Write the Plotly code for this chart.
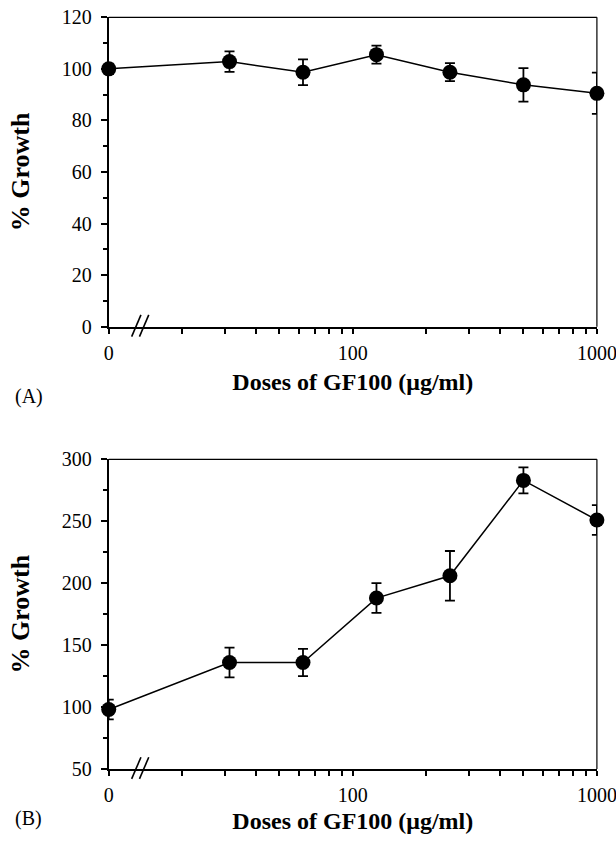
import plotly.graph_objects as go

# ---- data ----
doses = [0, 31.25, 62.5, 125, 250, 500, 1000]
growth_a = [100, 102.8, 98.7, 105.5, 98.7, 93.8, 90.5]
err_a = [2, 4, 5, 3.5, 3.5, 6.5, 8]
growth_b = [98, 136, 136, 188, 206, 283, 251]
err_b = [8, 12, 11, 12, 20, 10.5, 12]

x_tick_vals = [10, 20, 30, 40, 50, 60, 70, 80, 90, 100,
               200, 300, 400, 500, 600, 700, 800, 900, 1000]
x_tick_text = ["0", "", "", "", "", "", "", "", "", "100",
               "", "", "", "", "", "", "", "", "1000"]
zero_pos = 10  # where dose 0 is drawn on the log axis

x_plot = [zero_pos if d == 0 else d for d in doses]

FONT = "Liberation Serif"

fig = go.Figure()

for i, (g, e) in enumerate([(growth_a, err_a), (growth_b, err_b)]):
    xa = "x" if i == 0 else "x2"
    ya = "y" if i == 0 else "y2"
    fig.add_trace(go.Scatter(
        x=x_plot, y=g, xaxis=xa, yaxis=ya,
        mode="lines+markers",
        line=dict(color="black", width=1.5),
        marker=dict(color="black", size=15),
        error_y=dict(type="data", array=e, visible=True,
                     color="black", thickness=1.8, width=5),
        cliponaxis=False, showlegend=False,
    ))

xdom = [0.1765, 0.969]
common_x = dict(
    type="log", range=[1, 3], tickmode="array",
    tickvals=x_tick_vals, ticktext=x_tick_text,
    ticks="outside", ticklen=5, tickwidth=1.5, tickcolor="black",
    showline=True, linewidth=2, linecolor="black",
    showgrid=False, zeroline=False, automargin=False,
    ticklabeloverflow="allow", ticklabelstandoff=2,
    tickfont=dict(family=FONT, size=20, color="black"),
    domain=xdom,
)
common_y = dict(
    ticks="outside", ticklen=6, tickwidth=1.5, tickcolor="black",
    showline=True, linewidth=2, linecolor="black",
    showgrid=False, zeroline=False, automargin=False,
    ticklabelstandoff=5,
    tickfont=dict(family=FONT, size=20, color="black"),
)
xtitle_font = dict(family=FONT, size=24, color="black")
ytitle_font = dict(family=FONT, size=26, color="black")

fig.update_layout(
    width=616, height=843, autosize=False,
    margin=dict(l=0, r=0, t=0, b=0),
    paper_bgcolor="white", plot_bgcolor="white",
    xaxis=dict(common_x, anchor="y",
               title=dict(text="<b>Doses of GF100 (μg/ml)</b>",
                          font=xtitle_font, standoff=11)),
    yaxis=dict(common_y, anchor="x", range=[0, 120], dtick=20,
               domain=[0.6125, 0.9795],
               minor=dict(dtick=10, ticks="outside", ticklen=4,
                          tickwidth=1.5, tickcolor="black"),
               title=dict(text="<b>% Growth</b>", font=ytitle_font,
                          standoff=25)),
    xaxis2=dict(common_x, anchor="y2",
                title=dict(text="<b>Doses of GF100 (μg/ml)</b>",
                           font=xtitle_font, standoff=7)),
    yaxis2=dict(common_y, anchor="x2", range=[50, 300], dtick=50,
                domain=[0.0878, 0.4551],
                minor=dict(dtick=25, ticks="outside", ticklen=4,
                           tickwidth=1.5, tickcolor="black"),
                title=dict(text="<b>% Growth</b>", font=ytitle_font,
                           standoff=25)),
)

# thin top/right frame lines and axis-break marks
for xr, yr in [("x domain", "y domain"), ("x2 domain", "y2 domain")]:
    fig.add_shape(type="line", xref=xr, yref=yr, x0=0, x1=1, y0=1, y1=1,
                  line=dict(color="black", width=1.2))
    fig.add_shape(type="line", xref=xr, yref=yr, x0=1, x1=1, y0=0, y1=1,
                  line=dict(color="black", width=1.2))
    for dx in (0.0, 0.016):
        fig.add_shape(type="line", xref=xr, yref=yr,
                      x0=0.047 + dx, x1=0.066 + dx, y0=-0.032, y1=0.038,
                      line=dict(color="black", width=1.6))

fig.add_annotation(text="(A)", x=0.021, y=1 - 396 / 843, xref="paper",
                   yref="paper", showarrow=False, xanchor="left",
                   font=dict(family=FONT, size=20, color="black"))
fig.add_annotation(text="(B)", x=0.021, y=1 - 832 / 843, xref="paper",
                   yref="paper", showarrow=False, xanchor="left",
                   font=dict(family=FONT, size=20, color="black"))

fig.write_html("out.html")
